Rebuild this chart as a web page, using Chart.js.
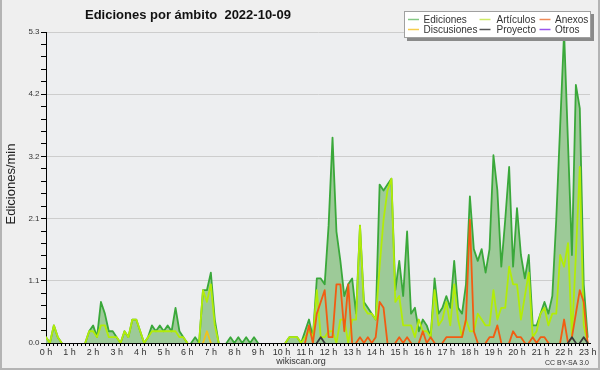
<!DOCTYPE html>
<html>
<head>
<meta charset="utf-8">
<script src="https://cdn.jsdelivr.net/npm/chart.js@4.4.0/dist/chart.umd.min.js"></script>
<style>
  html, body { margin: 0; padding: 0; background: #efefef; }
  #wrap { position: relative; width: 600px; height: 370px; }
</style>
</head>
<body>
<div id="wrap"><canvas id="chart" width="600" height="370"></canvas></div>
<script>
// Values per 10-minute bucket, 00:00 .. 23:00 (edits/min)
const ediciones = [
  0.1, 0, 0.3, 0.1, 0, 0,
  0, 0, 0, 0, 0, 0.2,
  0.3, 0.1, 0.7, 0.5, 0.2, 0.2,
  0.1, 0, 0.2, 0.1, 0.4, 0.4,
  0.2, 0, 0.1, 0.3, 0.2, 0.3,
  0.2, 0.3, 0.2, 0.6, 0.2, 0.1,
  0, 0, 0.1, 0, 0.9, 0.9,
  1.2, 0.4, 0, 0, 0, 0.1,
  0, 0.1, 0, 0.1, 0, 0.1,
  0, 0, 0, 0, 0, 0,
  0, 0, 0.1, 0.1, 0.1, 0,
  0.2, 0.4, 0.1, 1.1, 1.1, 1.0,
  2.0, 3.5, 1.9, 1.4, 0.8, 1.0,
  1.1, 0.5, 2.0, 0.7, 0.6, 0.5,
  0.4, 2.7, 2.6, 2.7, 2.8, 0.9,
  1.4, 0.8, 1.9, 0.5, 0.6, 0.2,
  0.4, 0.3, 0.1, 1.1, 0.5, 0.6,
  0.8, 0.6, 1.4, 0.6, 0.5, 1.0,
  2.5, 1.6, 1.4, 1.6, 1.2, 1.6,
  3.2, 2.6, 1.3, 2.1, 3.0, 1.3,
  2.3, 1.5, 1.1, 1.5, 0.3, 0.3,
  0.5, 0.7, 0.5, 0.8, 2.1, 3.7,
  5.3, 3.4, 1.5, 4.4, 4.0, 1.0,
  0.1
];
const articulos = [
  0.1, 0, 0.3, 0.1, 0, 0,
  0, 0, 0, 0, 0, 0.2,
  0.2, 0.1, 0.3, 0.3, 0.1, 0.1,
  0.1, 0, 0.2, 0.1, 0.4, 0.4,
  0.2, 0, 0.1, 0.2, 0.2, 0.2,
  0.2, 0.2, 0.2, 0.2, 0.1, 0.1,
  0, 0, 0, 0, 0.9, 0.7,
  1.0, 0.3, 0, 0, 0, 0,
  0, 0, 0, 0, 0, 0,
  0, 0, 0, 0, 0, 0,
  0, 0, 0.1, 0.1, 0.1, 0,
  0.1, 0.2, 0.1, 0.9, 0.1, 0.1,
  0.2, 0.2, 0, 0.4, 0.4, 0,
  0.4, 0.4, 2.0, 0.6, 0.5, 0.5,
  0.4, 1.3, 2.1, 2.6, 2.8, 0.7,
  0.8, 0.3, 0.3, 0.3, 0.1, 0.4,
  0.2, 0.2, 0.1, 0.9, 0.3, 0.4,
  0.7, 0.3, 1.0, 0.4, 0.1, 0.4,
  0.2, 0.2, 0.5, 0.4, 0.3, 0.3,
  0.9, 0.4, 0.6, 0.6, 1.3, 1.0,
  1.0, 0.4, 0.8, 1.2, 0.1, 0.2,
  0.5, 0.6, 0.3, 0.5, 0.5, 1.5,
  1.3, 1.7, 0.1, 1.5, 3.0, 0.3,
  0
];
const anexos = [
  0, 0, 0, 0, 0, 0,
  0, 0, 0, 0, 0, 0,
  0, 0, 0, 0, 0, 0,
  0, 0, 0, 0, 0, 0,
  0, 0, 0, 0, 0, 0,
  0, 0, 0, 0, 0, 0,
  0, 0, 0, 0, 0, 0,
  0, 0, 0, 0, 0, 0,
  0, 0, 0, 0, 0, 0,
  0, 0, 0, 0, 0, 0,
  0, 0, 0, 0, 0, 0,
  0, 0.3, 0, 0.5, 0.7, 0.9,
  0.1, 0.1, 1.0, 1.0, 0.2, 1.0,
  0, 0, 0.1, 0, 0.1, 0,
  0.1, 0.7, 0.6, 0, 0, 0,
  0.1, 0, 0.1, 0, 0, 0,
  0.2, 0, 0.1, 0, 0, 0,
  0.1, 0.1, 0.1, 0.1, 0.1, 0.4,
  2.1, 0.2, 0, 0, 0, 0.1,
  0.1, 0.3, 0, 0, 0, 0.2,
  0.1, 0.1, 0, 0, 0.1, 0,
  0.1, 0.1, 0, 0, 0, 0,
  0.4, 0, 0.1, 0.5, 0.9, 0.7,
  0
];
const discusiones = ediciones.map(() => 0);
discusiones[41] = 0.2;
const proyecto = ediciones.map(() => 0);
proyecto[70] = 0.1;
proyecto[134] = 0.1;
proyecto[137] = 0.1;
const otros = ediciones.map(() => 0);

const seriesNames = ['Ediciones', 'Artículos', 'Anexos', 'Discusiones', 'Proyecto', 'Otros'];
const hourLabels = ['0 h','1 h','2 h','3 h','4 h','5 h','6 h','7 h','8 h','9 h','10 h','11 h',
                    '12 h','13 h','14 h','15 h','16 h','17 h','18 h','19 h','20 h','21 h','22 h','23 h'];
const yTickLabels = ['0.0', '1.1', '2.1', '3.2', '4.2', '5.3'];
const yMax = 5.3;
const xMax = 23.1;

const colors = {
  Ediciones: '#3aa83a',
  Articulos: '#b2ec08',
  Anexos: '#f25c12',
  Discusiones: '#f2c21a',
  Proyecto: '#3c3c3c',
  Otros: '#8c44e8'
};
const legendColors = ['#84c884', '#cdea66', '#ee8a58', '#f5cd4c', '#555555', '#9a55ec'];

const FONT = '"Liberation Sans", Arial, sans-serif';

function toPoints(arr) {
  return arr.map((v, i) => ({ x: i / 6, y: v }));
}

// hide segments that lie on the zero line (they sit under the axis in the original)
function segColor(color) {
  return ctx => (ctx.p0.parsed.y === 0 && ctx.p1.parsed.y === 0) ? 'rgba(0,0,0,0)' : color;
}

function lineSet(label, data, color, order, extra) {
  return Object.assign({
    label: label,
    data: toPoints(data),
    borderColor: color,
    borderWidth: 1.8,
    fill: false,
    pointRadius: 0,
    order: order,
    segment: { borderColor: segColor(color) }
  }, extra || {});
}

const decor = {
  id: 'decor',
  beforeDraw(chart) {
    const { ctx, chartArea: a } = chart;
    ctx.save();
    ctx.fillStyle = '#efefef';
    ctx.fillRect(0, 0, 600, 370);
    ctx.fillStyle = '#edeef0';
    ctx.fillRect(a.left, a.top, a.right - a.left, a.bottom - a.top);
    ctx.restore();
  },
  afterDraw(chart) {
    const ctx = chart.ctx;
    ctx.save();
    // title
    ctx.fillStyle = '#111';
    ctx.font = 'bold 13px ' + FONT;
    ctx.textAlign = 'left';
    ctx.textBaseline = 'alphabetic';
    ctx.fillText('Ediciones por ámbito  2022-10-09', 85, 18.5);
    // y axis title
    ctx.save();
    ctx.translate(14.5, 184);
    ctx.rotate(-Math.PI / 2);
    ctx.textAlign = 'center';
    ctx.font = '13px ' + FONT;
    ctx.fillStyle = '#222';
    ctx.fillText('Ediciones/min', 0, 0);
    ctx.restore();
    // footer texts
    ctx.fillStyle = '#333';
    ctx.font = '9px ' + FONT;
    ctx.textAlign = 'center';
    ctx.fillText('wikiscan.org', 301, 364);
    ctx.font = '7px ' + FONT;
    ctx.textAlign = 'right';
    ctx.fillText('CC BY-SA 3.0', 589, 365);
    // legend box
    ctx.fillStyle = '#8a8a8a';
    ctx.fillRect(407, 14, 187, 27);
    ctx.fillStyle = '#ffffff';
    ctx.fillRect(404, 11, 187, 27);
    ctx.strokeStyle = '#a0a0a0';
    ctx.lineWidth = 1;
    ctx.strokeRect(404.5, 11.5, 186, 26);
    const cols = [[408, 423.5], [479.5, 496.5], [539.5, 555]];
    const rows = [[19.5, 23], [29.5, 33]];
    const place = [[0, 0], [1, 0], [2, 0], [0, 1], [1, 1], [2, 1]];
    ctx.font = '10px ' + FONT;
    ctx.textAlign = 'left';
    seriesNames.forEach((name, k) => {
      const [c, r] = place[k];
      ctx.strokeStyle = legendColors[k];
      ctx.lineWidth = 1.5;
      ctx.beginPath();
      ctx.moveTo(cols[c][0], rows[r][0]);
      ctx.lineTo(cols[c][0] + 11, rows[r][0]);
      ctx.stroke();
      ctx.fillStyle = '#333';
      ctx.fillText(name, cols[c][1], rows[r][1]);
    });
    // outer frame
    ctx.fillStyle = '#b4b4b4';
    ctx.fillRect(0, 0, 2, 370);
    ctx.fillRect(598, 0, 2, 370);
    ctx.fillRect(0, 368, 600, 2);
    ctx.restore();
  }
};

const xTicks = [];
for (let k = 0; k <= 138; k++) xTicks.push(k / 6);
const yTicks = [];
for (let k = 0; k <= 25; k++) yTicks.push(k * yMax / 25);

new Chart(document.getElementById('chart'), {
  type: 'line',
  data: {
    datasets: [
      lineSet(seriesNames[0], ediciones, colors.Ediciones, 6, { fill: 'origin', backgroundColor: '#9dca98' }),
      lineSet(seriesNames[1], articulos, colors.Articulos, 5),
      lineSet(seriesNames[2], anexos, colors.Anexos, 4),
      lineSet(seriesNames[3], discusiones, colors.Discusiones, 3),
      lineSet(seriesNames[4], proyecto, colors.Proyecto, 2),
      lineSet(seriesNames[5], otros, colors.Otros, 1)
    ]
  },
  options: {
    responsive: false,
    animation: false,
    events: [],
    layout: { padding: { top: 32, right: 10, left: 0, bottom: 0 } },
    elements: { line: { tension: 0, borderJoinStyle: 'round', borderCapStyle: 'round' }, point: { radius: 0 } },
    plugins: { legend: { display: false }, title: { display: false }, tooltip: { enabled: false } },
    scales: {
      x: {
        type: 'linear', min: 0, max: xMax, z: 1,
        afterFit: s => { s.height = 27; },
        afterBuildTicks: s => { s.ticks = xTicks.map(v => ({ value: v })); },
        grid: { drawOnChartArea: false, drawTicks: true, tickLength: 3, color: '#000', tickColor: '#000' },
        border: { display: true, color: '#000', width: 1 },
        ticks: {
          autoSkip: false, maxRotation: 0, minRotation: 0, padding: 1,
          color: '#333', font: { family: FONT, size: 9 },
          callback: (v, i) => (i % 6 === 0 ? hourLabels[i / 6] : '')
        }
      },
      y: {
        type: 'linear', min: 0, max: yMax, z: 1,
        afterFit: s => { s.width = 46; },
        afterBuildTicks: s => { s.ticks = yTicks.map(v => ({ value: v })); },
        grid: {
          drawTicks: true, tickLength: 5, tickColor: '#000',
          color: c => (c.index % 5 === 0 && c.index > 0 ? '#cdcdcd' : 'rgba(0,0,0,0)')
        },
        border: { display: true, color: '#000', width: 1 },
        ticks: {
          autoSkip: false, padding: 1.5,
          color: '#333', font: { family: FONT, size: 8 },
          callback: (v, i) => (i % 5 === 0 ? yTickLabels[i / 5] : '')
        }
      }
    }
  },
  plugins: [decor]
});
</script>
</body>
</html>
